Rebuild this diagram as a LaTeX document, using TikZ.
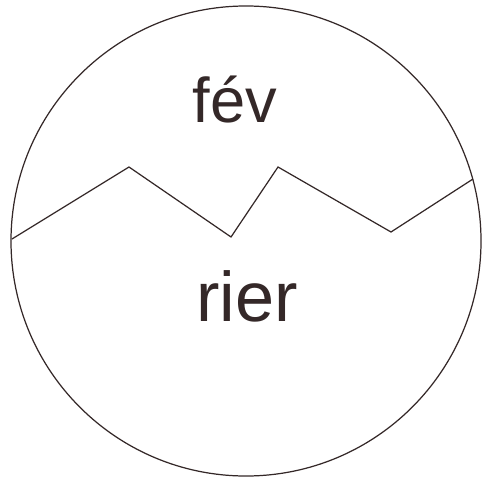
\documentclass[tikz,border=0pt]{standalone}
\usepackage{fontspec}
\setmainfont{Liberation Sans}
\usepackage{tikz}
\usetikzlibrary{calc}

\definecolor{ink}{RGB}{52,40,40}

\begin{document}
\begin{tikzpicture}[x=0.02cm, y=-0.02cm]

  % =========== 画布范围 ===========
  \useasboundingbox (0,0) rectangle (482,479);

  % =========== 基础坐标定义 ===========
  % 圆心与折线各顶点
  \coordinate (O)  at (246, 241);
  \coordinate (Z1) at (12, 239);
  \coordinate (Z2) at (129, 167);
  \coordinate (Z3) at (231, 237);
  \coordinate (Z4) at (278, 167);
  \coordinate (Z5) at (391, 232);
  \coordinate (Z6) at (473, 179);

  % =========== 外圆 ===========
  \draw[line width=0.7pt, ink] (O) circle (235);

  % =========== 折线（切口） ===========
  \draw[line width=0.7pt, ink, line join=miter]
    (Z1) -- (Z2) -- (Z3) -- (Z4) -- (Z5) -- (Z6);

  % =========== 文字 ===========
  \node[anchor=base, ink, font=\fontsize{36}{40}\selectfont] (top) at (235, 123) {fév};
  \node[anchor=base, ink, font=\fontsize{40}{44}\selectfont] (bottom) at (247, 321) {rier};

\end{tikzpicture}
\end{document}
